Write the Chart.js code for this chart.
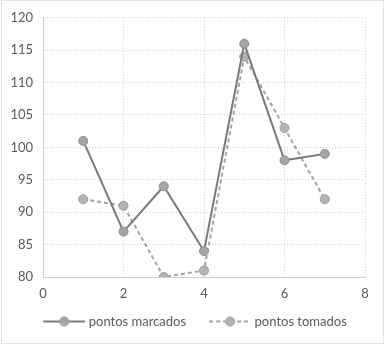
<!DOCTYPE html>
<html>
<head>
<meta charset="utf-8">
<script src="https://cdn.jsdelivr.net/npm/chart.js@4/dist/chart.umd.min.js"></script>
<style>
  html, body { margin: 0; padding: 0; background: #fff; }
  #wrap { width: 385px; height: 346px; position: relative; }
</style>
</head>
<body>
<div id="wrap"><canvas id="c" width="385" height="346"></canvas></div>
<script>
// Jogos (eixo x) e pontuações por jogo
const jogos = [1, 2, 3, 4, 5, 6, 7];
const pontosMarcados = [101, 87, 94, 84, 116, 98, 99];
const pontosTomados = [92, 91, 80, 81, 114, 103, 92];
const nomesSeries = ['pontos marcados', 'pontos tomados'];

const FONT = 'Lato, "Open Sans", sans-serif';
const TXT = '#595959';
const GRID = '#cfcfcf';

// Amostra de legenda: segmento de linha com marcador circular ao centro,
// encostada à direita da imagem (o espaço à esquerda separa os itens)
const AMOSTRA_W = 58, SEG = 42;
function legendSample(color, dash, fill, edge) {
  const cv = document.createElement('canvas');
  cv.width = AMOSTRA_W; cv.height = 12;
  const g = cv.getContext('2d');
  const x0 = AMOSTRA_W - SEG;
  g.strokeStyle = color; g.lineWidth = 2; g.setLineDash(dash);
  g.beginPath(); g.moveTo(x0, 6); g.lineTo(AMOSTRA_W, 6); g.stroke();
  g.setLineDash([]);
  g.fillStyle = fill; g.strokeStyle = edge; g.lineWidth = 1;
  g.beginPath(); g.arc(x0 + SEG / 2, 6, 4.5, 0, Math.PI * 2); g.fill(); g.stroke();
  return cv;
}
const amostras = [
  legendSample('#7a7a7a', [], '#a5a5a5', '#8f8f8f'),
  legendSample('#a3a3a3', [4, 3], '#b3b3b3', '#9a9a9a')
];

// Moldura pontilhada à volta do gráfico
const moldura = {
  id: 'moldura',
  beforeDraw(chart) {
    const ctx = chart.ctx;
    ctx.save();
    ctx.fillStyle = '#fff';
    ctx.fillRect(0, 0, chart.width, chart.height);
    ctx.strokeStyle = '#c8c8c8';
    ctx.lineWidth = 1;
    ctx.setLineDash([1, 1]);
    ctx.strokeRect(1.5, 0.5, 382, 343);
    ctx.restore();
  }
};

// Acerto fino da posição da legenda
const LEG_DX = 6, LEG_DY = -1;
const posLegenda = {
  id: 'posLegenda',
  afterLayout(chart) {
    const l = chart.legend;
    if (!l) return;
    l.left += LEG_DX; l.right += LEG_DX;
    l.top += LEG_DY; l.bottom += LEG_DY;
  }
};

new Chart(document.getElementById('c'), {
  type: 'scatter',
  data: {
    datasets: [
      {
        label: nomesSeries[0],
        data: jogos.map((x, i) => ({ x, y: pontosMarcados[i] })),
        showLine: true,
        borderColor: '#7a7a7a',
        borderWidth: 2,
        pointRadius: 4.5,
        pointBackgroundColor: '#a5a5a5',
        pointBorderColor: '#8f8f8f',
        pointBorderWidth: 1
      },
      {
        label: nomesSeries[1],
        data: jogos.map((x, i) => ({ x, y: pontosTomados[i] })),
        showLine: true,
        borderColor: '#a3a3a3',
        borderWidth: 2,
        borderDash: [4, 3],
        pointRadius: 4.5,
        pointBackgroundColor: '#b3b3b3',
        pointBorderColor: '#9a9a9a',
        pointBorderWidth: 1
      }
    ]
  },
  plugins: [moldura, posLegenda],
  options: {
    responsive: false,
    animation: false,
    layout: { padding: { left: 0, right: 20, top: 17, bottom: 7 } },
    scales: {
      x: {
        type: 'linear',
        min: 0, max: 8,
        ticks: { stepSize: 2, color: TXT, font: { family: FONT, size: 13 }, padding: 9 },
        grid: { color: GRID, drawTicks: false },
        border: { color: GRID, dash: [1, 2] },
        afterFit(s) { s.height = 29; }
      },
      y: {
        min: 80, max: 120,
        ticks: { stepSize: 5, color: TXT, font: { family: FONT, size: 13 }, padding: 10 },
        grid: { color: GRID, drawTicks: false },
        border: { color: GRID, dash: [1, 2] },
        afterFit(s) { s.width = 43; }
      }
    },
    plugins: {
      tooltip: { enabled: false },
      legend: {
        position: 'bottom',
        labels: {
          color: TXT,
          font: { family: FONT, size: 13 },
          usePointStyle: true,
          pointStyleWidth: 52,
          boxHeight: 12,
          padding: 10,
          generateLabels(chart) {
            return chart.data.datasets.map((d, i) => ({
              text: d.label,
              pointStyle: amostras[i],
              fontColor: TXT,
              datasetIndex: i,
              hidden: false,
              lineWidth: 0
            }));
          }
        }
      }
    }
  }
});
</script>
</body>
</html>
